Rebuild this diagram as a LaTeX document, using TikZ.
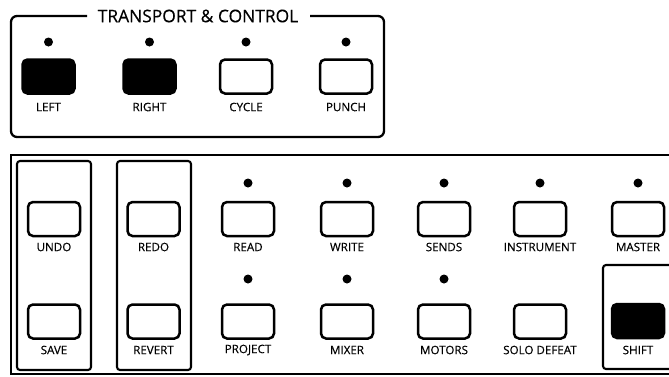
\documentclass[tikz,border=0pt]{standalone}
\usepackage{fontspec}
\setmainfont{Open Sans}
\newfontfamily\lblfont{Open Sans}[FakeBold=0.35]
\begin{document}
\begin{tikzpicture}[x=1pt,y=-1pt,
  btn/.style={draw=black,line width=2.5pt,rounded corners=5pt,minimum width=52pt,minimum height=34pt,inner sep=0pt,fill=white},
  dark/.style={btn,fill=black},
  led/.style={circle,fill=black,inner sep=0pt,minimum size=9pt},
  lbl/.style={font=\lblfont\fontsize{11.6}{11.6}\selectfont,inner sep=0pt},
  frame/.style={draw=black,line width=2.3pt},
  grp/.style={draw=black,line width=2.1pt,rounded corners=3pt}]
\useasboundingbox (0,0) rectangle (669,376);
\begin{scope}
\clip (0,0) rectangle (669,376);
% top group
\node[font=\lblfont\fontsize{17.4}{17.4}\selectfont,inner sep=0pt] (title) at (198,16) {TRANSPORT \& CONTROL};
\coordinate (tl) at (87,16);
\coordinate (tr) at (310,16);
\draw[frame,rounded corners=6pt] (tl) -- (11,16) -- (11,137) -- (384,137) -- (384,16) -- (tr);
% bottom frame
\draw[frame] (680,155) -- (11,155) -- (11,374) -- (680,374);
% groups
\draw[grp] (17,161) rectangle (91,370);
\draw[grp] (117,161) rectangle (191,370);
\draw[grp] (680,265) -- (603,265) -- (603,369) -- (680,369);
% top row
\foreach \n/\x/\s/\t in {left/48.5/dark/LEFT,right/149.5/dark/RIGHT,cycle/246/btn/CYCLE,punch/346/btn/PUNCH}{
  \node[led] (\n-led) at (\x,42) {};
  \node[\s] (\n) at (\x,76.5) {};
  \node[lbl] (\n-lbl) at (\x,107) {\t};
}
% bottom upper row
\foreach \n/\x/\t in {read/248/READ,write/347/WRITE,sends/444/SENDS,instr/540/INSTRUMENT,master/638/MASTER}{
  \node[led] (\n-led) at (\x,183) {};
}
\foreach \n/\x/\t in {undo/54/UNDO,redo/153.5/REDO,read/248/READ,write/347/WRITE,sends/444/SENDS,instr/540/INSTRUMENT,master/638/MASTER}{
  \node[btn] (\n) at (\x,219) {};
  \node[lbl] (\n-lbl) at (\x,247) {\t};
}
% bottom lower row
\foreach \n/\x/\t in {project/248/PROJECT,mixer/347/MIXER,motors/444/MOTORS}{
  \node[led] (\n-led) at (\x,279) {};
}
\foreach \n/\x/\t in {save/54/SAVE,revert/153.5/REVERT,project/248/PROJECT,mixer/347/MIXER,motors/444/MOTORS,solo/540/SOLO DEFEAT}{
  \node[btn] (\n) at (\x,321.5) {};
  \node[lbl] (\n-lbl) at (\x,350) {\t};
}
\node[dark] (shift) at (638,321) {};
\node[lbl] (shift-lbl) at (638,350) {SHIFT};
\end{scope}
\end{tikzpicture}
\end{document}
